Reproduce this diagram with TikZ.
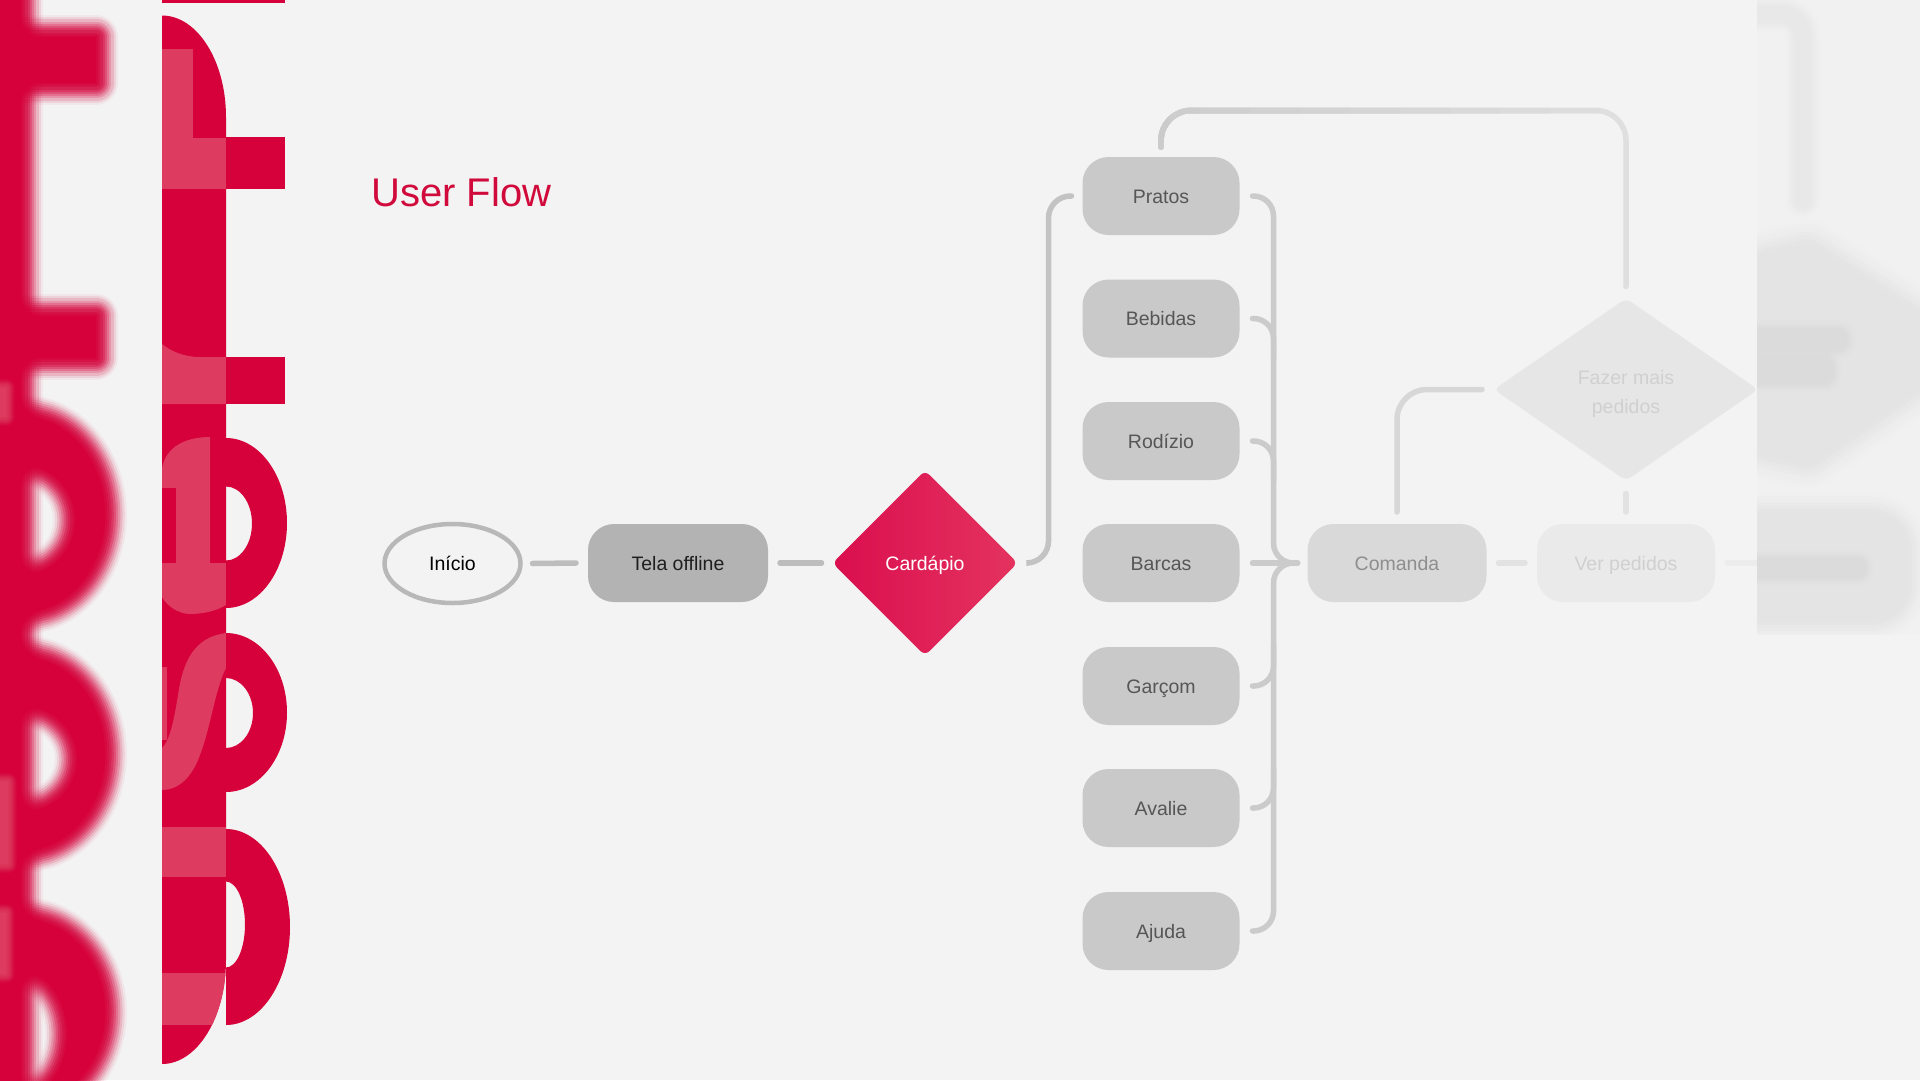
\documentclass[tikz,border=0pt]{standalone}
\usepackage{fontspec}
\setmainfont{Liberation Sans}
\usetikzlibrary{shapes.geometric,calc}
\definecolor{bg}{HTML}{F3F3F3}
\definecolor{panelbg}{HTML}{F1F1F1}
\definecolor{redA}{HTML}{D6003A}
\definecolor{pinkA}{HTML}{DD3C60}
\definecolor{titlered}{HTML}{D10A3C}
\definecolor{ringgray}{HTML}{B8B8B8}
\definecolor{telafill}{HTML}{B3B3B3}
\definecolor{boxfill}{HTML}{C9C9C9}
\definecolor{boxtext}{HTML}{565656}
\definecolor{comfill}{HTML}{D9D9D9}
\definecolor{comtext}{HTML}{8E8E8E}
\definecolor{verfill}{HTML}{EAEAEA}
\definecolor{vertext}{HTML}{D0D0D0}
\definecolor{fazfill}{HTML}{E6E6E6}
\definecolor{faztext}{HTML}{D0D0D0}
\definecolor{cardL}{HTML}{DA0E4E}
\definecolor{cardR}{HTML}{E4335F}
\definecolor{cA}{HTML}{BDBDBD}
\definecolor{cB}{HTML}{C3C3C3}
\definecolor{cC}{HTML}{CBCBCB}
\definecolor{cD}{HTML}{D7D7D7}
\definecolor{cE}{HTML}{E2E2E2}
\definecolor{cF}{HTML}{ECECEC}
\definecolor{blob}{HTML}{E4E4E4}
\definecolor{blobtext}{HTML}{DBDBDB}
\definecolor{blobline}{HTML}{E8E8E8}

% soft-edged fill: opaque core plus fading halo strokes
\newcommand\softfill[3]{%
  \fill[#1, even odd rule] #3;
  \foreach \k in {1,...,10}{%
    \pgfmathsetmacro\blw{2*#2*\k/10}%
    \pgfmathsetmacro\bop{0.5*(1-\k/11)}%
    \draw[#1, draw opacity=\bop, line width=\blw pt, line join=round] #3;
  }%
}

\tikzset{
  nodefont/.style={font=\fontsize{19.5pt}{23pt}\selectfont},
  flowbox/.style={rectangle, rounded corners=26pt, minimum height=78pt, inner sep=0pt, outer sep=0pt,
    text height=14pt, text depth=0pt, nodefont},
  optbox/.style={flowbox, minimum width=157pt, fill=boxfill, text=boxtext},
  conn/.style={line width=5.5pt, line cap=round, draw=#1},
}

\begin{document}
\begin{tikzpicture}[x=1pt,y=-1pt]
\useasboundingbox (0,0) rectangle (1920,1080);
\fill[bg] (0,0) rectangle (1920,1080);

% ---------- blurred decorative copy (far left) ----------
\softfill{redA}{22}{(-40,-40) rectangle (21,1120)}
\softfill{redA}{22}{(-40,37) rectangle (96,83)}
\softfill{redA}{22}{(-40,316) rectangle (96,358)}
\softfill{redA}{22}{(22,514.5) ellipse [x radius=83, y radius=98] (22,520) ellipse [x radius=53, y radius=55]}
\softfill{redA}{22}{(22,754) ellipse [x radius=83, y radius=97] (22,759) ellipse [x radius=55, y radius=53]}
\softfill{redA}{22}{(22,1012) ellipse [x radius=83, y radius=93] (22,1034) ellipse [x radius=45, y radius=62]}
\softfill{pinkA}{10}{(-10,388) rectangle (6,417)}
\softfill{pinkA}{10}{(-10,782) rectangle (8,864)}
\softfill{pinkA}{10}{(-10,913) rectangle (6,974)}

% ---------- sharp decorative letters ----------
\fill[redA] (162,0) rectangle (285,2.5);
\fill[redA] (162,15.5) .. controls (197.3,15.5) and (226,61) .. (226,117) -- (226,960)
  .. controls (226,1017.4) and (197.3,1064) .. (162,1064) -- cycle;
\begin{scope}
  \clip (162,15.5) .. controls (197.3,15.5) and (226,61) .. (226,117) -- (226,960)
    .. controls (226,1017.4) and (197.3,1064) .. (162,1064) -- cycle;
  \fill[pinkA] (162,49) rectangle (193,138);
  \fill[pinkA] (162,138) rectangle (226,188.5);
  \fill[pinkA] (162,344) .. controls (172,352) and (185,357) .. (200,357) -- (226,357) -- (226,404) -- (162,404) -- cycle;
  \fill[pinkA] (162,468) .. controls (166,447) and (185,437) .. (210,437) -- (210,563) -- (226,563) -- (226,605)
    .. controls (215,612) and (200,614) .. (190,614) .. controls (178,614) and (166,605) .. (162,597) -- cycle;
  \fill[redA] (162,488) rectangle (176,563);
  \fill[pinkA] (226,633) -- (226,668) .. controls (215,690) and (210,730) .. (200,755)
    .. controls (193,775) and (180,790) .. (162,790) -- (162,748)
    .. controls (170,740) and (174,720) .. (178,695) .. controls (183,660) and (195,637) .. (226,633) -- cycle;
  \fill[pinkA] (162,667) rectangle (167,740);
  \fill[pinkA] (162,827) rectangle (226,877);
  \fill[pinkA] (162,973) rectangle (226,1025);
\end{scope}
\fill[redA] (226,137) rectangle (285,188.5);
\fill[redA] (226,357) rectangle (285,404);
\begin{scope}
  \clip (226,0) rectangle (300,1080);
  \fill[redA, even odd rule] (226,523) ellipse [x radius=61, y radius=85] (226,523.5) ellipse [x radius=26, y radius=37];
  \fill[redA, even odd rule] (226,712.5) ellipse [x radius=61, y radius=79.5] (226,713) ellipse [x radius=27, y radius=35];
  \fill[redA, even odd rule] (226,927) ellipse [x radius=64, y radius=98] (226,924.5) ellipse [x radius=19, y radius=43];
\end{scope}

% ---------- title ----------
\node[anchor=base west, inner sep=0pt, text=titlered, font=\fontsize{40pt}{48pt}\selectfont] (title) at (371,206) {User Flow};

% ---------- nodes ----------
\node[ellipse, draw=ringgray, line width=4.5pt, fill=bg, minimum width=136pt, minimum height=79pt,
  inner sep=0pt, outer sep=0pt, text height=14pt, text depth=0pt, nodefont, text=black] (ini) at (452.5,563.5) {Início};
\node[flowbox, minimum width=180pt, fill=telafill, text={black!88}] (tela) at (678,563) {Tela offline};
\node[diamond, aspect=1, minimum width=185pt, minimum height=185pt, inner sep=0pt, outer sep=0pt,
  rounded corners=6pt, left color=cardL, right color=cardR, text=white, text height=14pt, text depth=0pt, nodefont] (card) at (925,563) {Cardápio};

\node[optbox] (pr) at (1161,196) {Pratos};
\node[optbox] (be) at (1161,318.5) {Bebidas};
\node[optbox] (ro) at (1161,441) {Rodízio};
\node[optbox] (ba) at (1161,563) {Barcas};
\node[optbox] (ga) at (1161,686) {Garçom};
\node[optbox] (av) at (1161,808) {Avalie};
\node[optbox] (aj) at (1161,931) {Ajuda};

\node[flowbox, minimum width=179pt, fill=comfill, text=comtext] (com) at (1397,563) {Comanda};
\node[flowbox, minimum width=178pt, fill=verfill, text=vertext] (ver) at (1626,563) {Ver pedidos};
\node[diamond, aspect=1.45, minimum width=264pt, minimum height=182pt, inner sep=0pt, outer sep=0pt,
  rounded corners=6pt, fill=fazfill, text=faztext, nodefont] (faz) at (1626,389.5)
  {\raisebox{-9pt}[0pt][0pt]{\fontsize{19.5pt}{28.7pt}\selectfont\begin{tabular}{@{}c@{}}Fazer mais\\pedidos\end{tabular}}};

% ---------- connectors ----------
\draw[conn=cA] ($(ini.east)+(12,0)$) -- ($(tela.west)+(-12,0)$);
\draw[conn=cA] ($(tela.east)+(12,0)$) -- ($(card.west)+(-11,0)$);
\draw[conn=cB, rounded corners=22pt] ($(card.east)+(11,0)$) -| ($(pr.west)+(-34,0)$) -- ($(pr.west)+(-11,0)$);

\draw[conn=cC, rounded corners=20pt] ($(pr.east)+(13,0)$) -| ($(ba.east)+(34,0)$) -- ($(com.west)+(-10,0)$);
\draw[conn=cC, rounded corners=20pt] ($(aj.east)+(13,0)$) -| ($(ba.east)+(34,0)$) -- ($(com.west)+(-10,0)$);
\draw[conn=cC] ($(ba.east)+(13,0)$) -- ($(com.west)+(-10,0)$);
\draw[conn=cC, rounded corners=20pt] ($(be.east)+(13,0)$) -| ($(be.east)+(34,40)$);
\draw[conn=cC, rounded corners=20pt] ($(ro.east)+(13,0)$) -| ($(ro.east)+(34,40)$);
\draw[conn=cC, rounded corners=20pt] ($(ga.east)+(13,0)$) -| ($(ga.east)+(34,-40)$);
\draw[conn=cC, rounded corners=20pt] ($(av.east)+(13,0)$) -| ($(av.east)+(34,-40)$);

% top loop, lightening towards the right
\foreach \cx/\cg in {2000/12.5, 1600/13.3, 1550/14.1, 1500/14.9, 1450/15.7, 1400/16.5, 1350/17.3, 1300/18.1, 1250/18.9, 1200/19.7, 1170/20.5}{
  \begin{scope}
    \clip (0,0) rectangle (\cx,1080);
    \draw[conn=black!\cg!white, rounded corners=30pt] ($(pr.north)+(0,-10)$) |- ($(faz.north)+(0,-188)$) -- ($(faz.north)+(0,-12)$);
  \end{scope}
}
\draw[conn=cD, rounded corners=30pt] ($(faz.west)+(-12,0)$) -| ($(com.north)+(0,-12)$);
\draw[conn=cE] ($(faz.south)+(0,13)$) -- ($(ver.north)+(0,-12)$);
\draw[conn=cE] ($(com.east)+(12,0)$) -- ($(ver.west)+(-12,0)$);
\coordinate (pend) at (1770,563);
\draw[conn=cF] ($(ver.east)+(12,0)$) -- (pend);

% ---------- blurred panel on the right ----------
\begin{scope}
  \clip (1757,0) rectangle (1920,634);
  \fill[panelbg] (1757,0) rectangle (1920,634);
  \draw[blobline, line width=4pt] (1740,14) -- (1780,14) .. controls (1795,14) and (1803,25) .. (1803,40) -- (1803,200);
  \foreach \k in {1,...,8}{%
    \pgfmathsetmacro\blw{4+2*16*\k/8}%
    \pgfmathsetmacro\bop{0.45*(1-\k/9)}%
    \draw[blobline, draw opacity=\bop, line width=\blw pt, line join=round, line cap=round] (1740,14) -- (1780,14) .. controls (1795,14) and (1803,25) .. (1803,40) -- (1803,200);
  }
  \softfill{blob}{38}{(1740,274) -- (1807,258) -- (1950,350) -- (1807,450) -- (1740,436) -- cycle}
  \softfill{blobtext}{18}{(1740,338) rectangle (1838,341)}
  \softfill{blobtext}{18}{(1740,366) rectangle (1824,375)}
  \softfill{blob}{32}{[rounded corners=25pt] (1735,525) rectangle (1896,609)}
  \softfill{blobtext}{16}{(1740,566) rectangle (1858,570)}
\end{scope}
\end{tikzpicture}
\end{document}
